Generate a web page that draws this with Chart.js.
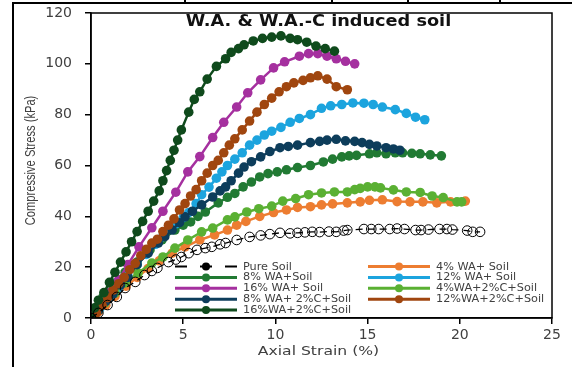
<!DOCTYPE html>
<html>
<head>
<meta charset="utf-8">
<script src="https://cdn.jsdelivr.net/npm/chart.js@4.4.0/dist/chart.umd.min.js"></script>
<style>
  html, body { margin: 0; padding: 0; background: #fff; }
  #wrap { width: 572px; height: 367px; position: relative; }
</style>
</head>
<body>
<div id="wrap"><canvas id="soil-chart"></canvas></div>
<script>
// axial strain (%) / compressive stress (kPa) pairs
var pureSoil = [[0,0],[0.4,2],[0.9,5.1],[1.4,8.3],[1.85,11.8],[2.4,14.2],[2.9,16.9],[3.3,18.5],[3.6,19.7],[4.2,22],[4.6,23],[4.9,24],[5.3,25.5],[5.75,26.8],[6.2,27.5],[6.55,28],[7.0,29],[7.3,29.5],[7.9,30.7],[8.6,31.9],[9.2,32.5],[9.7,33],[10.25,33.5],[10.8,33.3],[11.2,33.5],[11.6,33.7],[12.0,33.9],[12.4,33.8],[12.9,34],[13.3,33.9],[13.7,34.4],[13.9,34.6],[14.8,35],[15.2,35],[15.6,35],[16.2,35],[16.6,35.2],[17.0,35],[17.6,34.6],[17.9,34.6],[18.3,34.8],[18.9,35],[19.3,35],[19.6,34.8],[20.4,34.4],[20.7,33.9],[21.1,33.9]];
var wa4 = [[0,0],[0.4,2.5],[0.8,5],[1.3,8.5],[1.9,12.5],[2.5,16],[3.1,19.5],[3.7,22.5],[4.4,25.5],[5.1,28],[5.9,30.7],[6.7,32.7],[7.4,34.6],[7.9,36.5],[8.4,38],[9.15,40],[9.9,41.5],[10.6,42.5],[11.2,43.5],[11.9,43.8],[12.5,44.5],[13.1,44.9],[13.9,45.3],[14.6,45.7],[15.1,46.3],[15.8,46.5],[16.6,45.8],[17.3,45.7],[18.0,45.7],[18.75,45.3],[19.5,45.7],[20.3,46]];
var wa8 = [[0,0],[0.3,4],[0.65,8.3],[1.2,13.8],[1.85,18],[2.5,22],[3.2,26.8],[3.85,30.7],[4.55,34.6],[5.0,36.5],[5.4,37.8],[5.8,40],[6.2,41.7],[6.9,45.3],[7.4,47.5],[7.8,49],[8.25,51.6],[8.7,53.5],[9.15,55.5],[9.6,56.8],[10.1,57.5],[10.6,58.3],[11.2,59.2],[11.9,60],[12.6,61.4],[13.1,62.5],[13.6,63.4],[14.0,63.8],[14.4,64],[15.1,64.6],[15.5,65],[16.0,64.6],[16.5,65],[16.9,65],[17.4,64.8],[17.85,64.6],[18.4,64.2],[19.0,63.8]];
var wa12 = [[0,0],[0.5,4],[1.0,8],[1.5,12],[2.0,16.5],[2.5,21],[3.0,25],[3.5,29],[3.9,32],[4.3,35],[4.6,37],[5.0,39.5],[5.3,41.5],[5.7,45],[6.0,48.5],[6.4,51.5],[6.8,55],[7.1,57.5],[7.4,60],[7.8,62.5],[8.2,65],[8.6,68],[9.0,70],[9.4,72],[9.8,73.5],[10.3,75],[10.8,77],[11.3,78.5],[11.9,80],[12.5,82.5],[13.0,83.5],[13.6,84],[14.2,84.6],[14.8,84.5],[15.3,84],[15.8,83],[16.5,82],[17.1,80.5],[17.6,79],[18.1,78]];
var wa16 = [[0,0],[0.5,5],[1.0,10],[1.5,15],[2.0,21],[2.6,28],[3.3,35.5],[3.9,42],[4.6,49.5],[5.25,57.5],[5.9,63.5],[6.6,71],[7.2,77],[7.9,83],[8.5,88.6],[9.2,93.7],[9.9,98.4],[10.5,100.8],[11.3,103],[11.8,104],[12.3,104],[12.8,103],[13.3,102],[13.8,101],[14.3,100]];
var wa4c2 = [[0,0],[0.4,3],[0.75,6],[1.3,9.8],[1.85,13.8],[2.55,17.7],[3.3,21.6],[3.9,24],[4.55,27.5],[5.25,30.7],[6.0,33.9],[6.6,35.4],[7.4,38.6],[7.8,39.8],[8.45,41.7],[9.1,43],[9.8,44],[10.4,46],[11.1,47],[11.8,48.5],[12.5,49.2],[13.2,49.6],[13.9,49.6],[14.3,50.5],[14.6,51],[15.0,51.6],[15.4,51.6],[15.7,51.2],[16.4,50.4],[17.1,49.6],[17.85,49.4],[18.5,48],[19.1,47.4],[19.85,45.7],[20.1,45.7]];
var wa8c2 = [[0,0],[0.4,3],[0.8,6.5],[1.2,9.5],[1.6,13],[2.0,16],[2.5,21],[3.1,25.5],[3.65,29.5],[4.0,32],[4.4,34.6],[4.8,37.5],[5.1,39.8],[5.5,42],[6.0,44.5],[6.6,47.6],[7.0,50],[7.3,51.6],[7.6,54],[8.0,57],[8.3,59.4],[8.7,61.5],[9.2,63.4],[9.7,65.5],[10.25,67],[10.7,67.5],[11.2,68],[11.9,69],[12.4,69.5],[12.8,70],[13.3,70.3],[13.8,69.7],[14.3,69.5],[14.7,69],[15.1,68.3],[15.5,67.7],[16.0,67],[16.4,66.5],[16.75,66]];
var wa12c2 = [[0,0],[0.3,2],[0.6,5],[0.9,8],[1.2,11],[1.5,13.5],[1.8,16],[2.1,19],[2.4,21.5],[2.7,24.5],[3.0,27],[3.3,29.5],[3.6,31],[3.9,34],[4.2,36.5],[4.5,39],[4.8,42.5],[5.1,45],[5.4,48],[5.7,50.5],[6.0,54],[6.3,57],[6.6,60],[6.9,62],[7.2,65],[7.5,68],[7.8,70.5],[8.2,74],[8.6,77.5],[9.0,81],[9.4,84],[9.8,86.5],[10.2,89],[10.6,91],[11.0,92.5],[11.5,93.5],[11.9,94.5],[12.3,95.3],[12.8,94],[13.3,91],[13.9,89.8]];
var wa16c2 = [[0,0],[0.2,4],[0.4,7],[0.7,10],[1.0,14],[1.3,18],[1.6,22],[1.9,26],[2.2,30],[2.5,34],[2.8,38],[3.1,42],[3.4,46],[3.7,50],[3.9,54],[4.1,58],[4.3,62],[4.5,66],[4.7,70],[4.9,74],[5.3,81],[5.6,86],[5.9,89],[6.3,94],[6.8,99],[7.3,102],[7.6,104.5],[8.0,106],[8.3,107.5],[8.8,109],[9.3,110],[9.8,110.5],[10.3,111],[10.8,110],[11.2,109.5],[11.7,108.5],[12.2,107],[12.7,106],[13.2,105]];

var seriesNames = ['Pure Soil', '4% WA+ Soil', '8% WA+Soil', '12% WA+ Soil', '16% WA+ Soil',
  '4%WA+2%C+Soil', '8% WA+ 2%C+Soil', '12%WA+2%C+Soil', '16%WA+2%C+Soil'];
var seriesData = [pureSoil, wa4, wa8, wa12, wa16, wa4c2, wa8c2, wa12c2, wa16c2];
var seriesColors = ['#000000', '#ED7D31', '#217A33', '#1CA4DE', '#A5309F',
  '#5AB033', '#0D3D5B', '#A0460F', '#0F4A1C'];
var xTicks = [0, 5, 10, 15, 20, 25];
var yTicks = [0, 20, 40, 60, 80, 100, 120];
var chartTitle = 'W.A. & W.A.-C induced soil';
var xTitle = 'Axial Strain (%)';
var yTitle = 'Compressive Stress (kPa)';

var textGrey = '#404040';

var datasets = seriesData.map(function(d, i) {
  var pure = i === 0;
  return {
    label: seriesNames[i],
    data: d,
    borderColor: seriesColors[i],
    borderWidth: pure ? 1.3 : 2.5,
    borderDash: pure ? [7, 5] : [],
    pointRadius: 4.8,
    pointBorderWidth: pure ? 1 : 0,
    pointBorderColor: seriesColors[i],
    pointBackgroundColor: pure ? 'rgba(255,255,255,0)' : seriesColors[i],
    fill: false,
    tension: 0,
    order: pure ? 0 : 9 - i
  };
});

// text drawn a little wider (or narrower) than the font, as in the source picture
function wideText(ctx, txt, x, y, sx) {
  ctx.save();
  ctx.translate(x, y);
  ctx.scale(sx, 1);
  ctx.fillText(txt, 0, 0);
  ctx.restore();
}

// frame, titles and the two-column legend
var decor = {
  id: 'decor',
  afterDraw: function(chart) {
    var ctx = chart.ctx, a = chart.chartArea;
    ctx.save();
    // box round the plot
    ctx.strokeStyle = '#000';
    ctx.lineWidth = 1.5;
    ctx.strokeRect(a.left, a.top, a.right - a.left, a.bottom - a.top);
    // outer lines of the figure cell
    ctx.lineWidth = 2;
    ctx.beginPath();
    ctx.moveTo(13, 367); ctx.lineTo(13, 3); ctx.lineTo(572, 3);
    [185, 332, 408, 500].forEach(function(x) { ctx.moveTo(x, 3); ctx.lineTo(x, 0); });
    ctx.stroke();

    ctx.textAlign = 'center';
    ctx.textBaseline = 'middle';
    // chart title
    ctx.fillStyle = '#111';
    ctx.font = 'bold 15px "DejaVu Sans"';
    wideText(ctx, chartTitle, (a.left + a.right) / 2 - 3, a.top + 9, 1.18);
    // axis titles
    ctx.fillStyle = textGrey;
    ctx.font = '13px "DejaVu Sans"';
    wideText(ctx, xTitle, (a.left + a.right) / 2 - 3, a.bottom + 34, 1.2);
    ctx.save();
    ctx.translate(31, (a.top + a.bottom) / 2 - 5);
    ctx.rotate(-Math.PI / 2);
    ctx.font = '14.5px "Liberation Sans"';
    wideText(ctx, yTitle, 0, 0, 0.77);
    ctx.restore();

    // legend
    ctx.font = '9.8px "DejaVu Sans"';
    ctx.textAlign = 'left';
    var cols = [a.left + 84, a.left + 277];
    var row0 = a.top + 253.5, rowH = 10.9;
    seriesNames.forEach(function(name, i) {
      var col = i % 2, row = Math.floor(i / 2);
      var x0 = cols[col], y = row0 + row * rowH;
      ctx.strokeStyle = seriesColors[i];
      ctx.lineWidth = i === 0 ? 2 : 3;
      ctx.setLineDash(i === 0 ? [12, 13] : []);
      ctx.beginPath(); ctx.moveTo(x0, y); ctx.lineTo(x0 + 62, y); ctx.stroke();
      ctx.setLineDash([]);
      ctx.fillStyle = seriesColors[i];
      ctx.beginPath(); ctx.arc(x0 + 31, y, 4, 0, Math.PI * 2); ctx.fill();
      ctx.fillStyle = textGrey;
      wideText(ctx, name, x0 + 68, y + 0.5, 1.15);
    });
    ctx.restore();
  }
};

new Chart('soil-chart', {
  type: 'line',
  data: { datasets: datasets },
  plugins: [decor],
  options: {
    responsive: true,
    maintainAspectRatio: false,
    animation: false,
    devicePixelRatio: 1,
    layout: { padding: { top: 13, right: 20, left: 0, bottom: 0 } },
    plugins: { legend: { display: false }, tooltip: { enabled: false } },
    scales: {
      x: {
        type: 'linear',
        min: 0, max: 25,
        afterBuildTicks: function(s) { s.ticks = xTicks.map(function(v) { return {value: v}; }); },
        afterFit: function(s) { s.height = 49; },
        grid: { drawOnChartArea: false, drawTicks: true, tickLength: 6, color: '#000', lineWidth: 1.5 },
        border: { display: true, color: '#000', width: 1.5 },
        ticks: { color: textGrey, padding: 3, font: { family: 'DejaVu Sans', size: 14 } }
      },
      y: {
        min: 0, max: 120,
        afterBuildTicks: function(s) { s.ticks = yTicks.map(function(v) { return {value: v}; }); },
        afterFit: function(s) { s.width = 91; s.paddingTop = 0; s.paddingBottom = 0; },
        grid: { drawOnChartArea: false, drawTicks: true, tickLength: 6, color: '#000', lineWidth: 1.5 },
        border: { display: true, color: '#000', width: 1.5 },
        ticks: { color: textGrey, padding: 13, font: { family: 'DejaVu Sans', size: 14 } }
      }
    }
  }
});
</script>
</body>
</html>
